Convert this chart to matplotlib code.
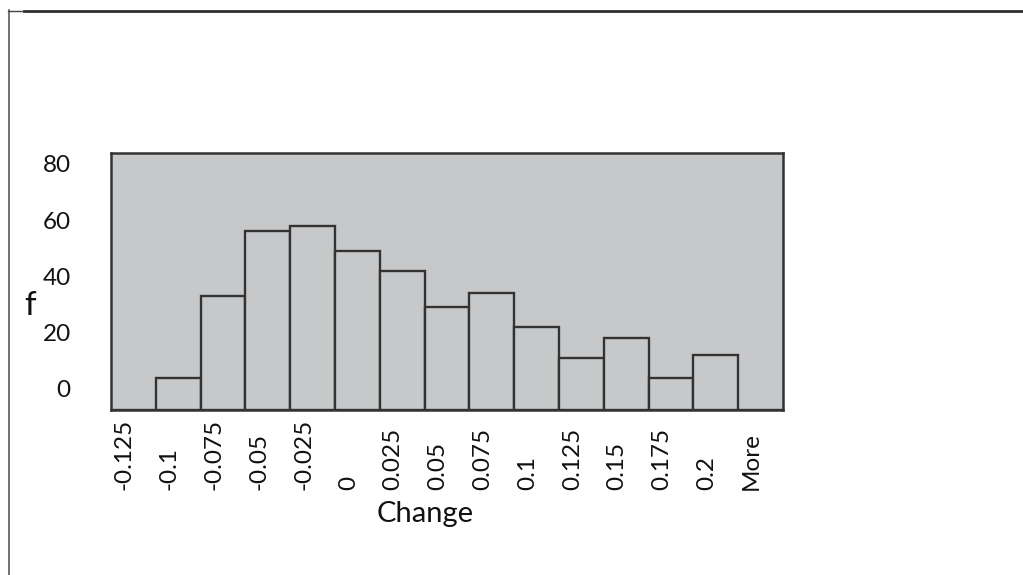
import matplotlib
matplotlib.use("Agg")
import matplotlib.pyplot as plt
from matplotlib.lines import Line2D
import numpy as np

# Histogram of changes (Excel-style bins)
bins = ["-0.125", "-0.1", "-0.075", "-0.05", "-0.025", "0", "0.025", "0.05",
        "0.075", "0.1", "0.125", "0.15", "0.175", "0.2", "More"]
freq = [0, 4, 33, 56, 58, 49, 42, 29, 34, 22, 11, 18, 4, 12, 0]
y_ticks = [0, 20, 40, 60, 80]

plt.rcParams["font.family"] = ["Lato", "DejaVu Sans"]

W, H = 1023, 575
fig = plt.figure(figsize=(W / 100, H / 100), dpi=100)
fig.patch.set_facecolor("white")

# plot area in pixel terms
left, right, top, bottom = 111, 783, 153, 410
ax = fig.add_axes([left / W, 1 - bottom / H, (right - left) / W, (bottom - top) / H])

panel = "#c7c8ca"
edge = "#333333"
ink = "#111111"
ax.set_facecolor(panel)

y_low, y_high = -7.47, 83.9
ax.set_ylim(y_low, y_high)
ax.set_xlim(0, len(bins))

x = np.arange(len(bins))
counts = np.array(freq, dtype=float)
heights = np.where(counts > 0, counts - y_low, 0)
ax.bar(x, heights, bottom=y_low, width=1.0, align="edge",
       facecolor=panel, edgecolor=edge, linewidth=1.7)

for s in ax.spines.values():
    s.set_color(edge)
    s.set_linewidth(1.8)

# y axis: labels only, no tick marks
ax.set_yticks(y_ticks)
ax.set_yticklabels([str(v) for v in y_ticks], fontsize=17.5, color=ink)
ax.tick_params(axis="y", length=0, pad=29)

# x axis: rotated bin labels, aligned at their start
ax.set_xticks([])
xform = ax.get_xaxis_transform()
for i, lab in enumerate(bins):
    ax.text(i + 0.3, -0.311, lab, transform=xform, rotation=90,
            ha="center", va="bottom", fontsize=17.5, color=ink)

fig.text(425 / W, 1 - 514 / H, "Change", ha="center", va="center",
         fontsize=21, color=ink)
fig.text(30 / W, 1 - 306 / H, "f", ha="center", va="center",
         fontsize=24, color=ink)

# outer frame strokes
fig.add_artist(Line2D([24 / W, 1.0], [1 - 11 / H, 1 - 11 / H],
                      transform=fig.transFigure, color="#2e2e2e", linewidth=2.0))
fig.add_artist(Line2D([8 / W, 24 / W], [1 - 10.5 / H, 1 - 10.5 / H],
                      transform=fig.transFigure, color="#444444", linewidth=1.0))
fig.add_artist(Line2D([8.5 / W, 8.5 / W], [1 - 10 / H, 0.0],
                      transform=fig.transFigure, color="#4a4a4a", linewidth=1.1))

fig.savefig("out.png", dpi=100, facecolor="white")
